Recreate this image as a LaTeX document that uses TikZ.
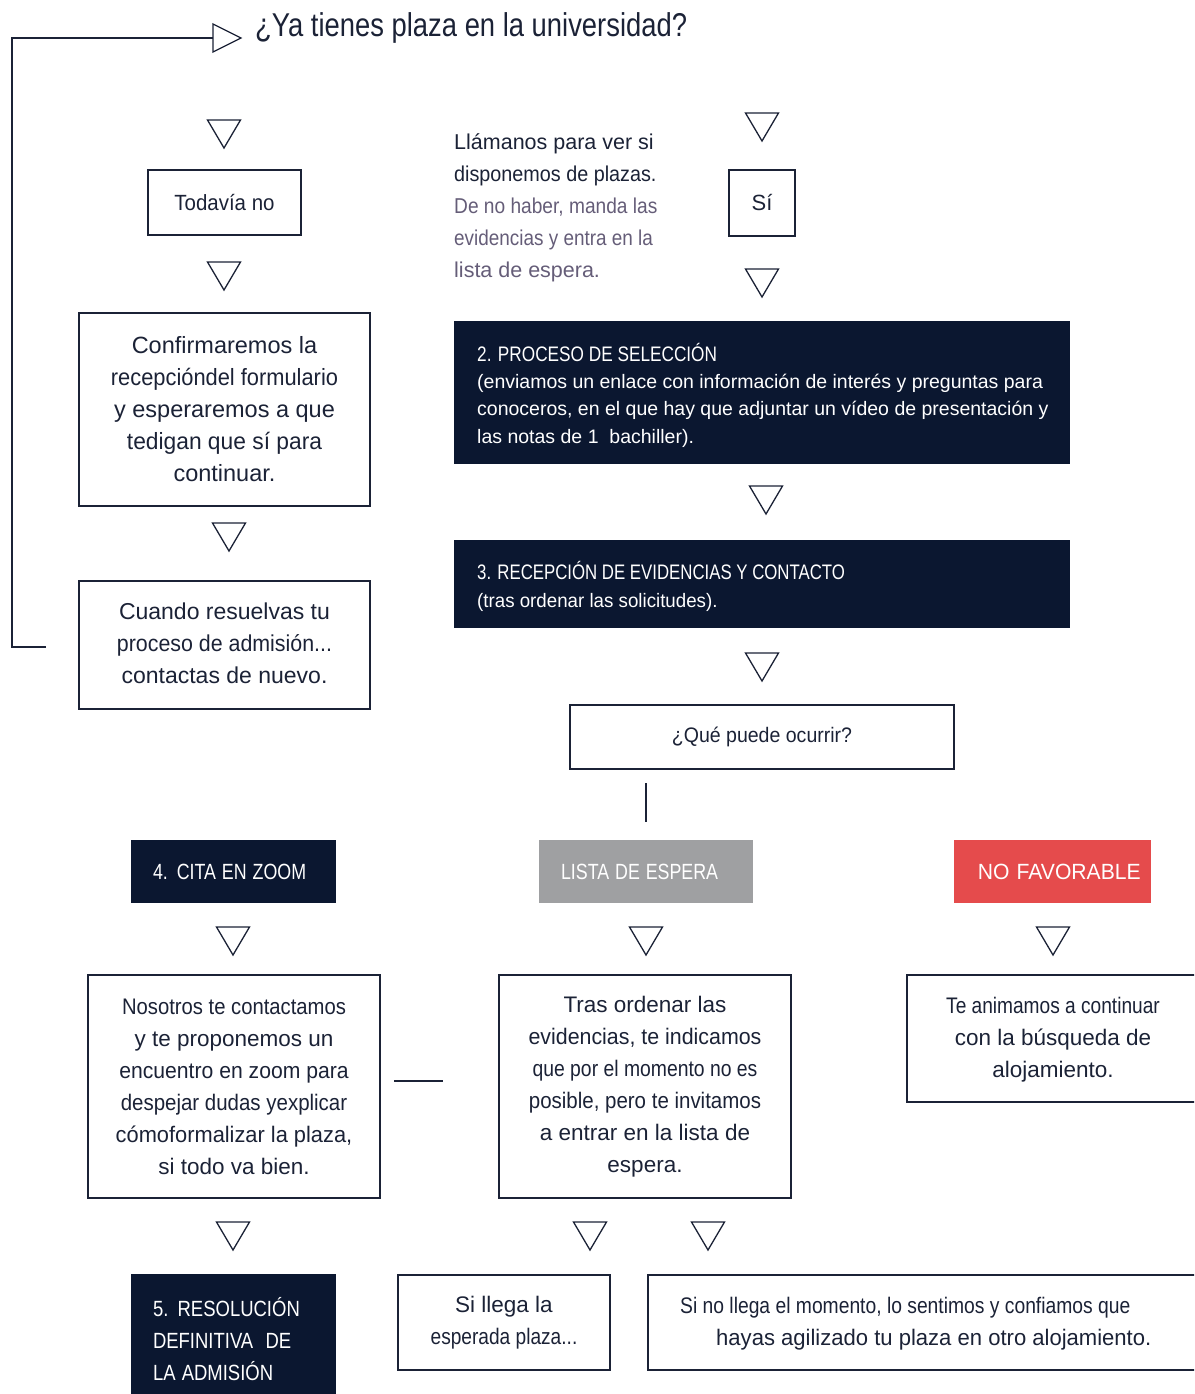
\documentclass[tikz,border=0pt]{standalone}
\usepackage{fontspec}
\usepackage{graphicx}
\setmainfont{Liberation Sans}
\newcommand\hs[2]{\scalebox{#1}[1]{#2}}
\definecolor{navy}{HTML}{0B1730}
\definecolor{ink}{HTML}{1B2236}
\definecolor{mauve}{HTML}{655D78}
\definecolor{grayb}{HTML}{9FA0A2}
\definecolor{redb}{HTML}{E54B4C}
\newcommand\downtri[3]{\coordinate (#1) at (#2,#3); \draw[tri] (#2-16.5,#3) -- (#2+16.5,#3) -- (#2,#3+28) -- cycle;}
\begin{document}
\begin{tikzpicture}[x=1pt,y=-1pt,
  box/.style={draw=ink,line width=1.3pt,rectangle,inner sep=0pt,text=ink,align=center},
  darkbox/.style={fill=navy,rectangle,inner sep=0pt,text=white},
  tagbox/.style={rectangle,inner ysep=0pt,inner xsep=22pt,text=white,align=left,minimum height=63pt,font=\fontsize{22}{26}\selectfont},
  tri/.style={draw=ink,line width=1.3pt,line join=miter,fill=white},
  conn/.style={draw=ink,line width=1.3pt}]
\useasboundingbox (0,0) rectangle (1194,1394);
\clip (0,0) rectangle (1194,1394);

% title and loop-back line
\node[anchor=base west,inner sep=0pt,text=ink,font=\fontsize{33}{36}\selectfont] (title) at (255,37) {\hs{0.83}{¿Ya tienes plaza en la universidad?}};
\coordinate (tin) at (213,38);
\draw[tri] (213,24) -- (241,38) -- (213,52) -- cycle;
\coordinate (lend) at (46,647);
\draw[conn] (lend) -- ++(-34,0) |- (tin);

% left column
\downtri{t1}{224}{120}
\node[box,minimum width=153pt,minimum height=65pt,font=\fontsize{22}{26}\selectfont] (todavia) at (224.5,202.5) {\hs{0.93}{Todavía no}};
\downtri{t2}{224}{262}
\node[box,minimum width=291pt,minimum height=193pt,font=\fontsize{23.5}{32}\selectfont] (confirm) at (224.5,409.5) {Confirmaremos la\\ \hs{0.93}{recepcióndel formulario}\\ y esperaremos a que\\ \hs{0.97}{tedigan que sí para}\\ continuar.};
\downtri{t3}{229}{523}
\node[box,minimum width=291pt,minimum height=128pt] (cuando) at (224.5,645) {};
\node[inner sep=0pt,align=center,text=ink,font=\fontsize{23}{32}\selectfont] (cuandotxt) at (224.5,643) {Cuando resuelvas tu\\ \hs{0.93}{proceso de admisión...}\\ contactas de nuevo.};

% right column top
\node[anchor=west,inner sep=0pt,align=left,text=ink,font=\fontsize{21.5}{32}\selectfont] (llam) at (454,208) {Llámanos para ver si\\ \hs{0.92}{disponemos de plazas.}\\ \textcolor{mauve}{\hs{0.89}{De no haber, manda las}}\\ \textcolor{mauve}{\hs{0.88}{evidencias y entra en la}}\\ \textcolor{mauve}{lista de espera.}};
\downtri{t4}{762}{113}
\node[box,minimum width=66pt,minimum height=66pt,font=\fontsize{22}{26}\selectfont] (si) at (762,203) {Sí};
\downtri{t5}{762}{269}
\node[darkbox,minimum width=616pt,minimum height=143pt] (p2) at (762,392.5) {};
\node[anchor=west,inner sep=0pt,align=left,text=white,font=\fontsize{19.5}{27.3}\selectfont] (p2txt) at (477,395) {{\fontsize{21}{27}\selectfont\hs{0.82}{2. PROCESO DE SELECCIÓN}}\\ (enviamos un enlace con información de interés y preguntas para\\ conoceros, en el que hay que adjuntar un vídeo de presentación y\\ las notas de 1\ \ bachiller).};
\downtri{t6}{766}{486}
\node[darkbox,minimum width=616pt,minimum height=88pt] (p3) at (762,584) {};
\node[anchor=west,inner sep=0pt,align=left,text=white,font=\fontsize{19.5}{28}\selectfont] (p3txt) at (477,586) {{\fontsize{21}{27}\selectfont\hs{0.8}{3. RECEPCIÓN DE EVIDENCIAS Y CONTACTO}}\\ \hs{0.96}{(tras ordenar las solicitudes).}};
\downtri{t7}{762}{653}
\node[box,minimum width=384pt,minimum height=64pt,font=\fontsize{21}{26}\selectfont] (que) at (762,737) {\hs{0.93}{¿Qué puede ocurrir?}};
\coordinate (v1) at (646,783);
\coordinate (v2) at (646,822);
\draw[conn] (v1) -- (v2);

% outcome tags
\node[tagbox,fill=navy,text width=161pt] (cita) at (233.5,871.5) {\hs{0.81}{4. CITA EN ZOOM}};
\node[tagbox,fill=grayb,text width=170pt] (lista) at (646,871.5) {\hs{0.81}{LISTA DE ESPERA}};
\node[tagbox,fill=redb,text width=153pt,inner xsep=22pt] (nofav) at (1052.5,871.5) {\hs{0.96}{\hspace*{2pt}NO FAVORABLE}};
\downtri{t8}{233}{927}
\downtri{t9}{646}{927}
\downtri{t10}{1053}{927}

% outcome boxes
\node[box,minimum width=292pt,minimum height=223pt,font=\fontsize{22.5}{32}\selectfont] (nosotros) at (234,1086.5) {\hs{0.9}{Nosotros te contactamos}\\ y te proponemos un\\ \hs{0.94}{encuentro en zoom para}\\ \hs{0.91}{despejar dudas yexplicar}\\ \hs{0.97}{cómoformalizar la plaza,}\\ si todo va bien.};
\coordinate (h1) at (394,1081);
\coordinate (h2) at (443,1081);
\draw[conn] (h1) -- (h2);
\node[box,minimum width=292pt,minimum height=223pt,font=\fontsize{22.5}{32}\selectfont] (tras) at (645,1086.5) {Tras ordenar las\\ \hs{0.95}{evidencias, te indicamos}\\ \hs{0.86}{que por el momento no es}\\ \hs{0.91}{posible, pero te invitamos}\\ a entrar en la lista de\\ espera.};
\node[box,minimum width=323pt,minimum height=127pt] (animo) at (1068.5,1038.5) {};
\node[inner sep=0pt,align=center,text=ink,font=\fontsize{22.5}{32}\selectfont] (animotxt) at (1053,1040) {\hs{0.85}{Te animamos a continuar}\\ con la búsqueda de\\ alojamiento.};

\downtri{t11}{233}{1222}
\downtri{t12}{590}{1222}
\downtri{t13}{708}{1222}

% final row
\node[darkbox,minimum width=205pt,minimum height=130pt,text width=161pt,inner xsep=22pt,align=left,font=\fontsize{22}{32}\selectfont] (res5) at (233.5,1339) {\hs{0.84}{5. RESOLUCIÓN}\\ \hs{0.84}{DEFINITIVA\ \ DE}\\ \hs{0.84}{LA ADMISIÓN}};
\node[box,minimum width=212pt,minimum height=95pt,font=\fontsize{22.5}{32}\selectfont] (sillega) at (504,1322.5) {Si llega la\\ \hs{0.85}{esperada plaza...}};
\node[box,minimum width=582pt,minimum height=95pt] (sinollega) at (939,1322.5) {};
\node[anchor=west,inner sep=0pt,align=left,text=ink,font=\fontsize{22.5}{32}\selectfont] (sinotxt) at (680,1324) {\hs{0.857}{Si no llega el momento, lo sentimos y confiamos que}\\ \hspace*{36pt}\hs{0.98}{hayas agilizado tu plaza en otro alojamiento.}};
\end{tikzpicture}
\end{document}
